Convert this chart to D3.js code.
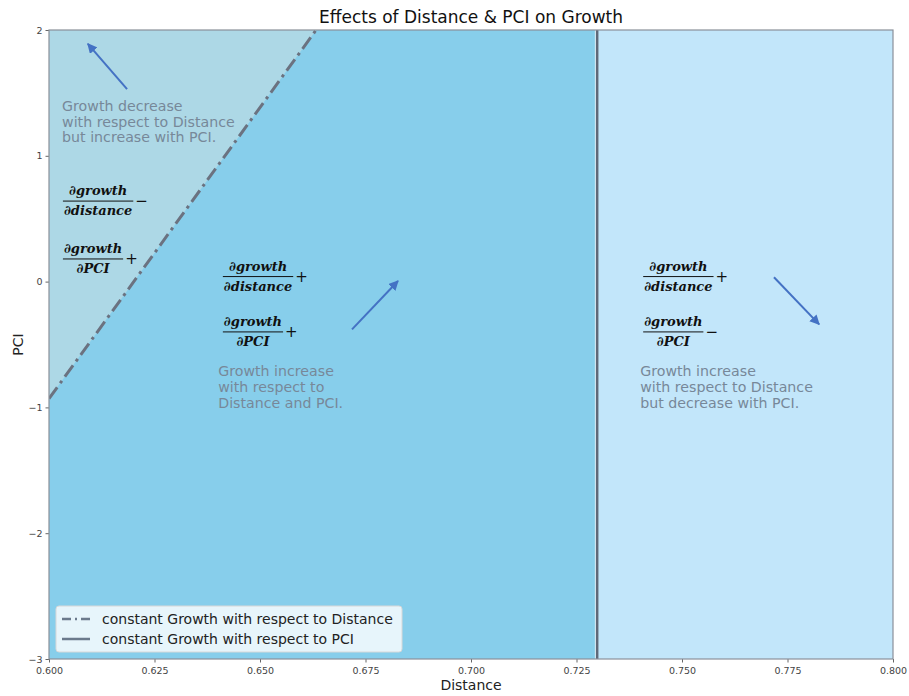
<!DOCTYPE html>
<html>
<head>
<meta charset="utf-8">
<script src="https://cdn.jsdelivr.net/npm/d3@7/dist/d3.min.js"></script>
<style>
  html, body { margin: 0; padding: 0; background: #fff; }
  svg { display: block; font-family: "DejaVu Sans", sans-serif; }
</style>
</head>
<body>
<svg id="chart" width="909" height="696"></svg>
<script>
// Axis domains and ticks
const xDomain = [0.6, 0.8];
const yDomain = [-3, 2];
const xTicks = [0.600, 0.625, 0.650, 0.675, 0.700, 0.725, 0.750, 0.775, 0.800];
const yTicks = [-3, -2, -1, 0, 1, 2];

// Boundary lines: constant growth w.r.t. distance (dash-dot) and w.r.t. PCI (vertical)
const distanceBoundary = [[0.6, -0.93], [0.6633, 2]];
const pciBoundaryX = 0.7299;

// Region labels: text lines anchored in data coordinates
const regionTexts = [
  { x: 0.6031, y: 1.40, lines: ["Growth decrease", "with respect to Distance", "but increase with PCI."] },
  { x: 0.6401, y: -0.71, lines: ["Growth increase", "with respect to", "Distance and PCI."] },
  { x: 0.7401, y: -0.71, lines: ["Growth increase", "with respect to Distance", "but decrease with PCI."] }
];

// Partial-derivative sign labels
const derivLabels = [
  { x: 0.6033, y: 0.64, den: "∂distance", sign: "−" },
  { x: 0.6033, y: 0.18, den: "∂PCI", sign: "+" },
  { x: 0.6412, y: 0.04, den: "∂distance", sign: "+" },
  { x: 0.6412, y: -0.40, den: "∂PCI", sign: "+" },
  { x: 0.7408, y: 0.04, den: "∂distance", sign: "+" },
  { x: 0.7408, y: -0.40, den: "∂PCI", sign: "−" }
];

// Direction arrows: [from, to]
const arrows = [
  [[0.6185, 1.53], [0.6092, 1.89]],
  [[0.6718, -0.38], [0.6827, 0.005]],
  [[0.7718, 0.035], [0.7825, -0.34]]
];

const legendItems = [
  { label: "constant Growth with respect to Distance", dash: "9,4,2,4" },
  { label: "constant Growth with respect to PCI", dash: null }
];

const svg = d3.select("#chart");
const margin = { left: 49, right: 16, top: 30, bottom: 37 };
const W = 909, H = 696;
const x = d3.scaleLinear().domain(xDomain).range([margin.left, W - margin.right]);
const y = d3.scaleLinear().domain(yDomain).range([H - margin.bottom, margin.top]);

const defs = svg.append("defs");
defs.append("clipPath").attr("id", "plotclip")
  .append("rect").attr("x", x(xDomain[0])).attr("y", y(yDomain[1]))
  .attr("width", x(xDomain[1]) - x(xDomain[0])).attr("height", y(yDomain[0]) - y(yDomain[1]));
defs.append("marker").attr("id", "arrowhead")
  .attr("viewBox", "0 0 10 10").attr("refX", 9).attr("refY", 5)
  .attr("markerWidth", 5).attr("markerHeight", 5).attr("markerUnits", "strokeWidth")
  .attr("orient", "auto")
  .append("path").attr("d", "M0,0 L10,5 L0,10 z").attr("fill", "#4472c4");

const plot = svg.append("g").attr("clip-path", "url(#plotclip)");

// Regions
plot.append("rect")
  .attr("x", x(xDomain[0])).attr("y", y(yDomain[1]))
  .attr("width", x(pciBoundaryX) - x(xDomain[0])).attr("height", y(yDomain[0]) - y(yDomain[1]))
  .attr("fill", "#87ceeb");
plot.append("rect")
  .attr("x", x(pciBoundaryX)).attr("y", y(yDomain[1]))
  .attr("width", x(xDomain[1]) - x(pciBoundaryX)).attr("height", y(yDomain[0]) - y(yDomain[1]))
  .attr("fill", "#c2e6fa");
// Area above the dash-dot boundary
const triPts = [distanceBoundary[0], distanceBoundary[1], [xDomain[0], yDomain[1]]];
plot.append("path")
  .attr("d", d3.line().x(d => x(d[0])).y(d => y(d[1]))(triPts) + "Z")
  .attr("fill", "#add8e6");

// Boundary lines
plot.append("path")
  .attr("d", d3.line().x(d => x(d[0])).y(d => y(d[1]))(distanceBoundary))
  .attr("stroke", "#6b7280").attr("stroke-width", 3)
  .attr("stroke-dasharray", "14,5,3,5").attr("fill", "none");
plot.append("line")
  .attr("x1", x(pciBoundaryX) - 1.8).attr("x2", x(pciBoundaryX) - 1.8)
  .attr("y1", y(yDomain[0])).attr("y2", y(yDomain[1]))
  .attr("stroke", "#e6f3fa").attr("stroke-width", 1);
plot.append("line")
  .attr("x1", x(pciBoundaryX)).attr("x2", x(pciBoundaryX))
  .attr("y1", y(yDomain[0])).attr("y2", y(yDomain[1]))
  .attr("stroke", "#5f6878").attr("stroke-width", 2.5);

// Arrows
arrows.forEach(a => {
  svg.append("line")
    .attr("x1", x(a[0][0])).attr("y1", y(a[0][1]))
    .attr("x2", x(a[1][0])).attr("y2", y(a[1][1]))
    .attr("stroke", "#4472c4").attr("stroke-width", 2)
    .attr("marker-end", "url(#arrowhead)");
});

// Region descriptions
regionTexts.forEach(r => {
  const t = svg.append("text")
    .attr("x", x(r.x)).attr("y", y(r.y) + 5.5)
    .attr("fill", "#778899").attr("font-size", 14.2);
  r.lines.forEach((ln, i) => {
    t.append("tspan").attr("x", x(r.x)).attr("dy", i === 0 ? 0 : 15.7).text(ln);
  });
});

// Derivative fractions
derivLabels.forEach(d => {
  const g = svg.append("g").attr("transform", `translate(${x(d.x)},${y(d.y)})`);
  const fontF = "'DejaVu Serif', serif";
  const num = g.append("text").attr("y", -6).attr("font-family", fontF)
    .attr("font-style", "italic").attr("font-weight", "bold").attr("font-size", 13)
    .attr("fill", "#111").attr("text-anchor", "middle").text("∂growth");
  const den = g.append("text").attr("y", 14).attr("font-family", fontF)
    .attr("font-style", "italic").attr("font-weight", "bold").attr("font-size", 13)
    .attr("fill", "#111").attr("text-anchor", "middle").text(d.den);
  const w = Math.max(num.node().getComputedTextLength(), den.node().getComputedTextLength()) + 2;
  num.attr("x", w / 2); den.attr("x", w / 2);
  g.append("line").attr("x1", 0).attr("x2", w).attr("y1", 0).attr("y2", 0)
    .attr("stroke", "#111").attr("stroke-width", 1);
  g.append("text").attr("x", w + 2).attr("y", 5).attr("font-size", 15)
    .attr("fill", "#111").text(d.sign);
});

// Axes
const xAxis = d3.axisBottom(x).tickValues(xTicks).tickFormat(d3.format(".3f")).tickSize(3.5);
const yAxis = d3.axisLeft(y).tickValues(yTicks).tickFormat(d3.format("d")).tickSize(3.5);
const gx = svg.append("g").attr("transform", `translate(0,${y(yDomain[0])})`).call(xAxis);
const gy = svg.append("g").attr("transform", `translate(${x(xDomain[0])},0)`).call(yAxis);
[gx, gy].forEach(g => {
  g.select(".domain").remove();
  g.selectAll(".tick line").attr("stroke", "#666");
  g.selectAll(".tick text").attr("fill", "#444").attr("font-size", 9.5)
    .attr("font-family", "DejaVu Sans, sans-serif");
});
gx.selectAll(".tick text").attr("dy", "0.9em");

// Frame
svg.append("rect")
  .attr("x", x(xDomain[0])).attr("y", y(yDomain[1]))
  .attr("width", x(xDomain[1]) - x(xDomain[0])).attr("height", y(yDomain[0]) - y(yDomain[1]))
  .attr("fill", "none").attr("stroke", "#8a9099").attr("stroke-width", 1.2);

// Legend
const lg = svg.append("g").attr("transform", `translate(${x(xDomain[0]) + 7},${y(yDomain[0]) - 53})`);
lg.append("rect").attr("width", 346).attr("height", 46).attr("rx", 3)
  .attr("fill", "#ffffff").attr("fill-opacity", 0.8).attr("stroke", "#d8d8d8");
legendItems.forEach((it, i) => {
  const yy = 13 + i * 20;
  lg.append("line").attr("x1", 6).attr("x2", 34).attr("y1", yy).attr("y2", yy)
    .attr("stroke", "#6b7a8c").attr("stroke-width", 2.5)
    .attr("stroke-dasharray", it.dash);
  lg.append("text").attr("x", 46).attr("y", yy + 5).attr("font-size", 14)
    .attr("fill", "#222").text(it.label);
});

// Title and axis labels
svg.append("text").attr("x", (x(xDomain[0]) + x(xDomain[1])) / 2).attr("y", 23)
  .attr("text-anchor", "middle").attr("font-size", 17).attr("fill", "#111")
  .text("Effects of Distance & PCI on Growth");
svg.append("text").attr("x", (x(xDomain[0]) + x(xDomain[1])) / 2).attr("y", 690)
  .attr("text-anchor", "middle").attr("font-size", 14).attr("fill", "#222").text("Distance");
svg.append("text").attr("transform", `translate(23,${(y(yDomain[0]) + y(yDomain[1])) / 2}) rotate(-90)`)
  .attr("text-anchor", "middle").attr("font-size", 14).attr("fill", "#222").text("PCI");
</script>
</body>
</html>
